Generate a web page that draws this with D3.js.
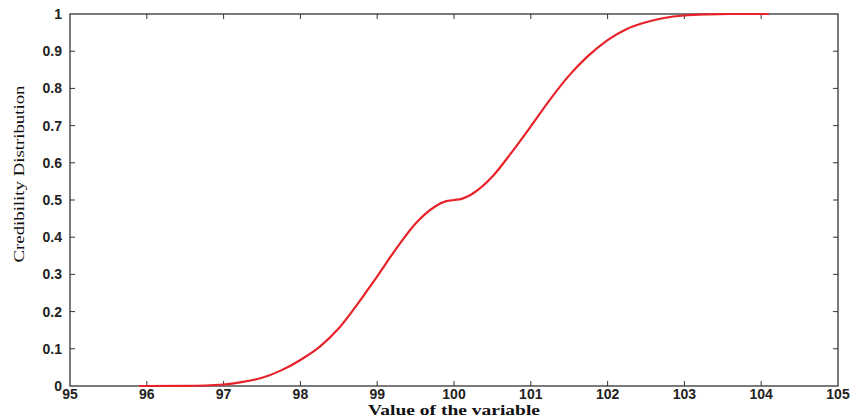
<!DOCTYPE html>
<html>
<head>
<meta charset="utf-8">
<script src="https://cdn.jsdelivr.net/npm/d3@7"></script>
<style>
  body { margin: 0; background: #fff; }
  svg { display: block; }
</style>
</head>
<body>
<div id="chart"></div>
<script>
// values
const xValues = [95.9, 96.5, 97, 97.25, 97.5, 97.75, 98, 98.25, 98.5, 98.75, 99, 99.25, 99.5, 99.75, 99.9, 100, 100.1,
  100.25, 100.5, 100.75, 101, 101.25, 101.5, 101.75, 102, 102.25, 102.5, 102.75, 103, 103.3, 103.6, 104.1];
const yValues = [0, 0.0005, 0.004, 0.011, 0.022, 0.042, 0.07, 0.105, 0.155, 0.222, 0.295, 0.37, 0.437, 0.482, 0.497, 0.5, 0.503,
  0.518, 0.563, 0.628, 0.698, 0.77, 0.835, 0.888, 0.93, 0.96, 0.978, 0.99, 0.996, 0.999, 1, 1];
const xTicks = [95, 96, 97, 98, 99, 100, 101, 102, 103, 104, 105];
const yTicks = [0, 0.1, 0.2, 0.3, 0.4, 0.5, 0.6, 0.7, 0.8, 0.9, 1];

const W = 852, H = 417;
const margin = { top: 14, right: 14, bottom: 31, left: 70 };
const width = W - margin.left - margin.right;
const height = H - margin.top - margin.bottom;

const svg = d3.select('#chart').append('svg')
  .attr('width', W).attr('height', H);

const g = svg.append('g')
  .attr('transform', `translate(${margin.left},${margin.top})`);

const x = d3.scaleLinear().domain([95, 105]).range([0, width]);
const y = d3.scaleLinear().domain([0, 1]).range([height, 0]);

const tickFont = 'Liberation Sans, Arial, sans-serif';

// box + inward ticks on all sides
const axisColor = '#333';
g.append('rect')
  .attr('x', 0).attr('y', 0)
  .attr('width', width).attr('height', height)
  .attr('fill', 'none').attr('stroke', axisColor).attr('stroke-width', 1.3);

const tickLen = 5;
g.append('g').selectAll('line').data(xTicks.slice(1, -1)).enter().append('line')
  .attr('x1', d => x(d)).attr('x2', d => x(d))
  .attr('y1', height).attr('y2', height - tickLen)
  .attr('stroke', axisColor);
g.append('g').selectAll('line').data(xTicks.slice(1, -1)).enter().append('line')
  .attr('x1', d => x(d)).attr('x2', d => x(d))
  .attr('y1', 0).attr('y2', tickLen)
  .attr('stroke', axisColor);
g.append('g').selectAll('line').data(yTicks.slice(1, -1)).enter().append('line')
  .attr('x1', 0).attr('x2', tickLen)
  .attr('y1', d => y(d)).attr('y2', d => y(d))
  .attr('stroke', axisColor);
g.append('g').selectAll('line').data(yTicks.slice(1, -1)).enter().append('line')
  .attr('x1', width).attr('x2', width - tickLen)
  .attr('y1', d => y(d)).attr('y2', d => y(d))
  .attr('stroke', axisColor);

// tick labels
g.append('g').selectAll('text').data(xTicks).enter().append('text')
  .attr('x', d => x(d)).attr('y', height + 13)
  .attr('text-anchor', 'middle')
  .style('font-family', tickFont).style('font-size', '14px').style('font-weight', 'bold')
  .attr('fill', '#222')
  .text(d => d);

g.append('g').selectAll('text').data(yTicks).enter().append('text')
  .attr('x', -8).attr('y', d => y(d)).attr('dy', '0.35em')
  .attr('text-anchor', 'end')
  .style('font-family', tickFont).style('font-size', '14px').style('font-weight', 'bold')
  .attr('fill', '#222')
  .text(d => d);

// curve
const line = d3.line()
  .x((d, i) => x(xValues[i]))
  .y(d => y(d))
  .curve(d3.curveMonotoneX);

g.append('path')
  .datum(yValues)
  .attr('d', line)
  .attr('fill', 'none')
  .attr('stroke', '#e8222a')
  .attr('stroke-width', 2.2);

// axis titles
svg.append('text')
  .attr('x', margin.left + x(100)).attr('y', 415)
  .attr('text-anchor', 'middle')
  .attr('textLength', 172).attr('lengthAdjust', 'spacingAndGlyphs')
  .style('font-family', 'Liberation Serif, Times New Roman, serif')
  .style('font-size', '14px').style('font-weight', 'bold')
  .attr('fill', '#111')
  .text('Value of the variable');

svg.append('text')
  .attr('transform', 'translate(24,174) rotate(-90)')
  .attr('text-anchor', 'middle')
  .attr('textLength', 177).attr('lengthAdjust', 'spacingAndGlyphs')
  .style('font-family', 'Liberation Serif, Times New Roman, serif')
  .style('font-size', '15px')
  .attr('fill', '#111')
  .text('Credibility Distribution');
</script>
</body>
</html>
